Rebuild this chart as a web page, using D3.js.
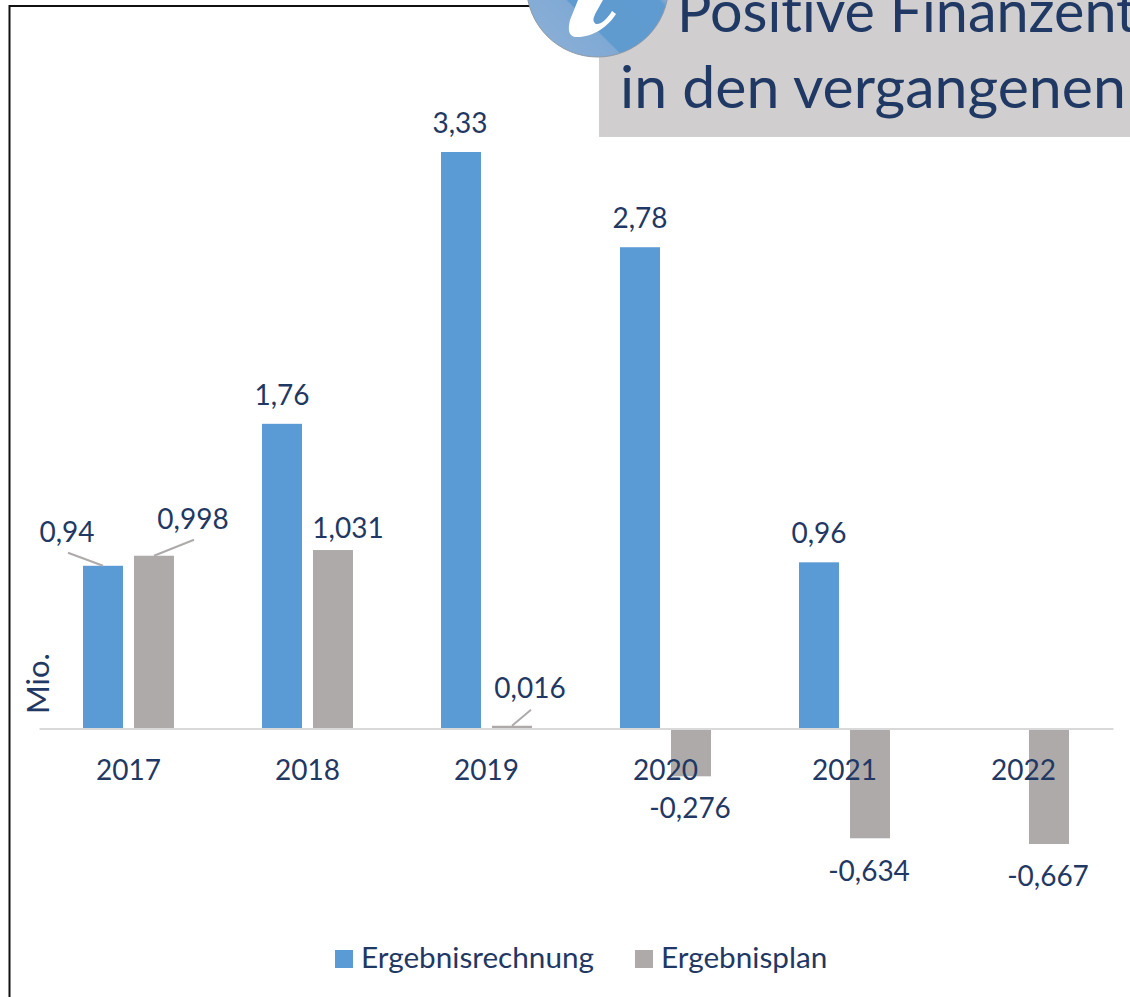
<!DOCTYPE html>
<html>
<head>
<meta charset="utf-8">
<script src="https://cdn.jsdelivr.net/npm/d3@7"></script>
<style>
  html, body { margin: 0; padding: 0; background: #fff; overflow: hidden; }
  text { font-family: Lato, "Open Sans", sans-serif; fill: #1f3864; font-variant-ligatures: none; }
</style>
</head>
<body>
<script>
// Werte
const jahre = ["2017", "2018", "2019", "2020", "2021", "2022"];
const ergebnisrechnung = [0.94, 1.76, 3.33, 2.78, 0.96, null];
const ergebnisplan = [0.998, 1.031, 0.016, -0.276, -0.634, -0.667];
const serien = ["Ergebnisrechnung", "Ergebnisplan"];
const farben = ["#5b9bd5", "#aeaaaa"];
const titelZeilen = ["Positive Finanzent", "in den vergangenen"];

const width = 1130;
const height = 997;

const svg = d3.select("body").append("svg")
    .attr("width", width)
    .attr("height", height);

// Rahmen
svg.append("path")
    .attr("d", `M9.5,${height} V6 H540`)
    .attr("fill", "none")
    .attr("stroke", "#111")
    .attr("stroke-width", 2);

// Skalen
const x0 = d3.scaleBand()
    .domain(jahre)
    .range([39, 1113])
    .paddingInner(0.4916)
    .paddingOuter(0.2458);

const x1 = d3.scaleBand()
    .domain(serien)
    .range([0, x0.bandwidth()])
    .paddingInner(0.216);

const y = d3.scaleLinear()
    .domain([-0.667, 3.33])
    .range([844, 152]);

const format = d => String(d).replace(".", ",");

// Balken
serien.forEach((serie, s) => {
    const werte = s === 0 ? ergebnisrechnung : ergebnisplan;
    svg.append("g").selectAll("rect")
        .data(jahre.map((j, i) => ({ jahr: j, wert: werte[i] })).filter(d => d.wert !== null))
        .enter()
        .append("rect")
        .attr("x", d => x0(d.jahr) + x1(serie))
        .attr("y", d => d.wert > 0 ? y(d.wert) : y(0))
        .attr("width", x1.bandwidth())
        .attr("height", d => Math.abs(y(d.wert) - y(0)))
        .attr("fill", farben[s]);
});

// Achse
const achse = svg.append("g")
    .attr("transform", `translate(0,${y(0)})`)
    .call(d3.axisBottom(x0).tickSize(0).tickPadding(32));
achse.select(".domain").attr("stroke", "#d9d9d9").attr("stroke-width", 2);
achse.selectAll("text").attr("font-size", 28).style("font-family", null);

// Beschriftungen: Versatz [dx, dy] gegenüber der Balkenmitte
const versatzRechnung = [[-36, -24], [0, -19], [-1, -19], [0, -19], [0, -19], null];
const versatzPlan = [[39, -27], [15, -12], [18, -28], [-1, 42], [-1, 43], [-1, 42]];

serien.forEach((serie, s) => {
    const werte = s === 0 ? ergebnisrechnung : ergebnisplan;
    const versatz = s === 0 ? versatzRechnung : versatzPlan;
    jahre.forEach((j, i) => {
        if (werte[i] === null) return;
        const mitte = x0(j) + x1(serie) + x1.bandwidth() / 2;
        svg.append("text")
            .attr("x", mitte + versatz[i][0])
            .attr("y", y(werte[i]) + versatz[i][1])
            .attr("text-anchor", "middle")
            .attr("font-size", 28)
            .text(format(werte[i]));
    });
});

// Führungslinien
const fuehrung = [
    { serie: 0, i: 0, dx: -35, dy: -13 },
    { serie: 1, i: 0, dx: 40, dy: -16 },
    { serie: 1, i: 2, dx: 19, dy: -16 }
];
fuehrung.forEach(f => {
    const werte = f.serie === 0 ? ergebnisrechnung : ergebnisplan;
    const mitte = x0(jahre[f.i]) + x1(serien[f.serie]) + x1.bandwidth() / 2;
    svg.append("line")
        .attr("x1", mitte)
        .attr("y1", y(werte[f.i]))
        .attr("x2", mitte + f.dx)
        .attr("y2", y(werte[f.i]) + f.dy)
        .attr("stroke", "#aeaaaa")
        .attr("stroke-width", 2);
});

// Achsentitel
svg.append("text")
    .attr("transform", "translate(49,714) rotate(-90)")
    .attr("font-size", 31)
    .text("Mio.");

// Legende
const legende = [{ x: 335, text: 361 }, { x: 635, text: 661 }];
serien.forEach((serie, s) => {
    svg.append("rect")
        .attr("x", legende[s].x)
        .attr("y", 950)
        .attr("width", 18)
        .attr("height", 18)
        .attr("fill", farben[s]);
    svg.append("text")
        .attr("x", legende[s].text)
        .attr("y", 968)
        .attr("font-size", 29.7)
        .text(serie);
});

// Titelfeld
svg.append("rect")
    .attr("x", 599).attr("y", 0)
    .attr("width", 531).attr("height", 137)
    .attr("fill", "#d0cece");

// Kreis mit dem i
const verlauf = svg.append("defs").append("linearGradient")
    .attr("id", "kreis")
    .attr("gradientUnits", "userSpaceOnUse")
    .attr("x1", 545).attr("y1", 55)
    .attr("x2", 650).attr("y2", -50);
[[0, "#8cb0d6"], [0.36, "#7fa9d4"], [0.37, "#609bd0"], [0.8, "#5f9ad0"], [0.83, "#7faad6"], [1, "#7faad6"]]
    .forEach(d => verlauf.append("stop").attr("offset", d[0]).attr("stop-color", d[1]));

svg.append("circle")
    .attr("cx", 597.5).attr("cy", -14).attr("r", 71)
    .attr("fill", "url(#kreis)")
    .attr("stroke", "#8f9aa6")
    .attr("stroke-width", 1);

svg.append("path")
    .attr("d", "M578,0 L603,0 C596,13 590,20 596,24 C601,25 608,18 612,11 L616,14 C608,27 592,38 575,37 C568,36 568,28 570,20 Z")
    .attr("fill", "#fff");

const titelY = [32, 108];
const titelX = [677, 620];
const titelGroesse = [57.5, 59];
titelZeilen.forEach((zeile, i) => {
    svg.append("text")
        .attr("x", titelX[i]).attr("y", titelY[i])
        .attr("font-size", titelGroesse[i])
        .text(zeile);
});
</script>
</body>
</html>
